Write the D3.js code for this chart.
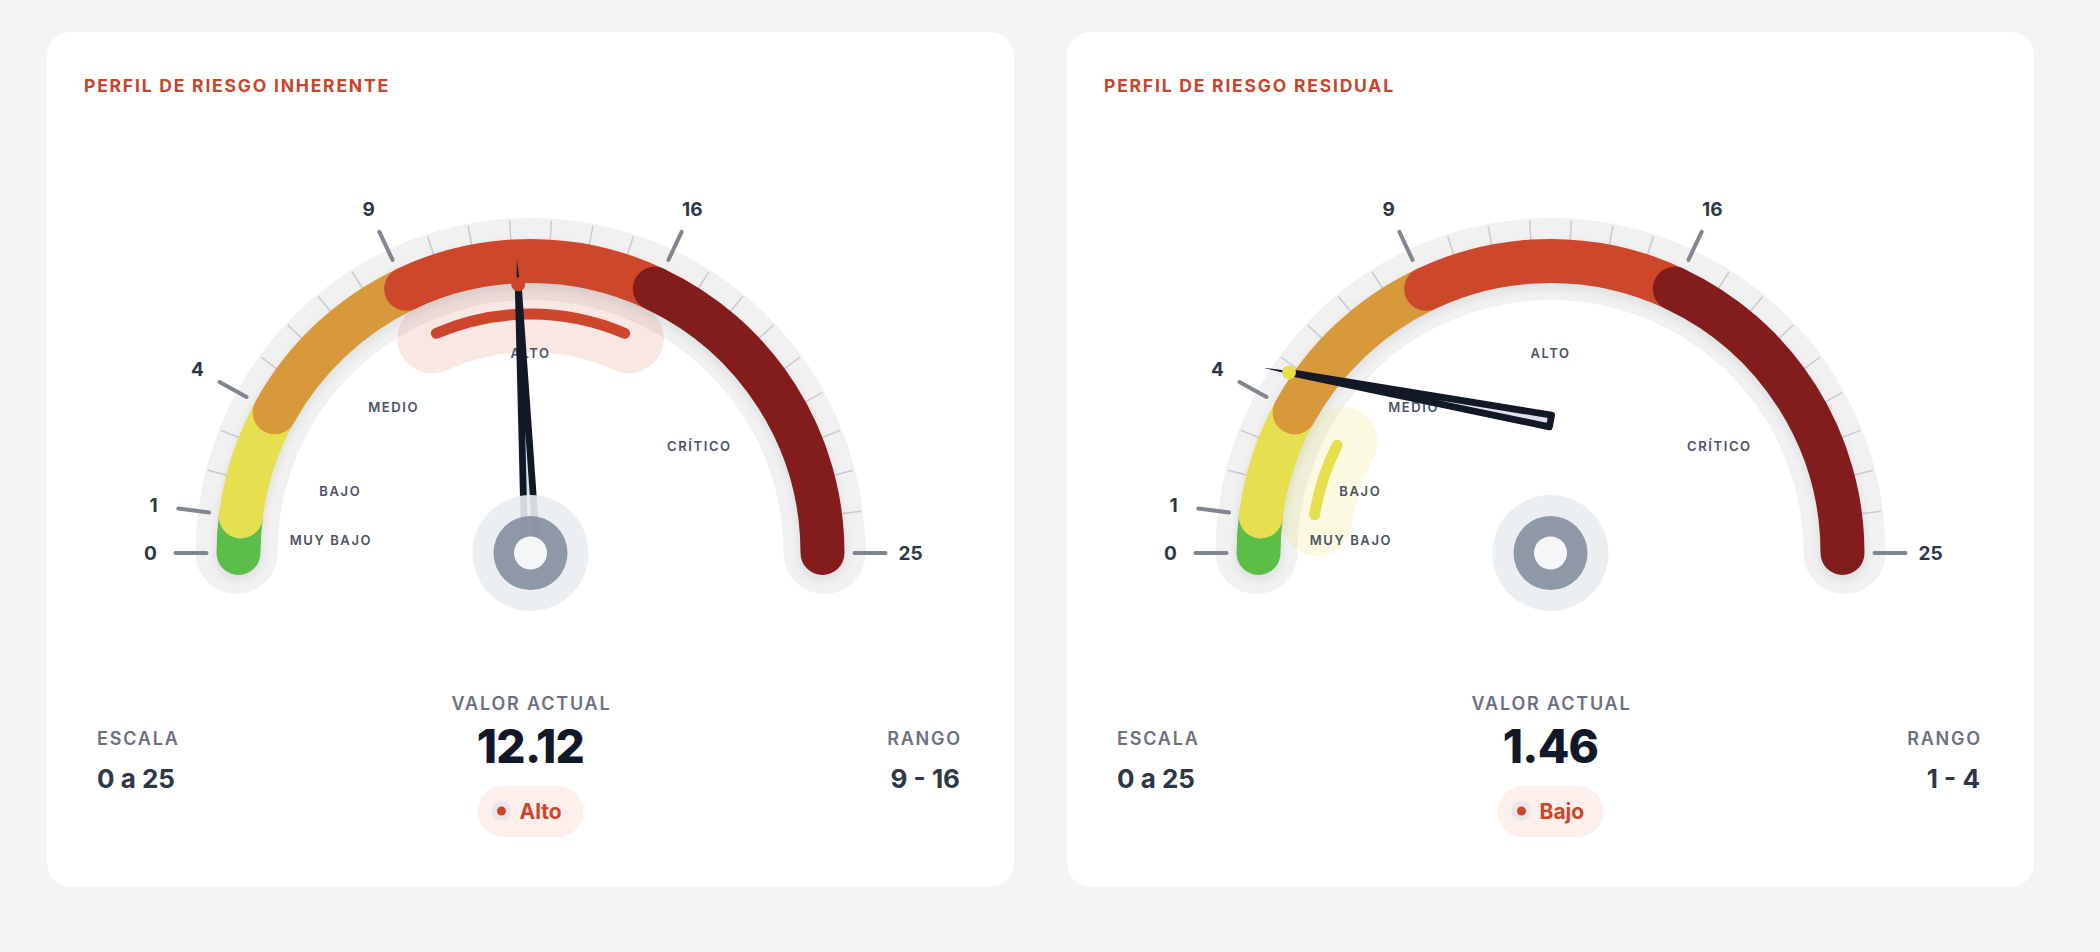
<!DOCTYPE html>
<html><head><meta charset="utf-8">
<script src="https://cdn.jsdelivr.net/npm/d3@7"></script>
<style>
html,body{margin:0;padding:0;background:#f4f4f5;}
svg{display:block;font-family:Inter,"Noto Sans",sans-serif;}
</style></head><body>
<svg id="chart" width="2100" height="952"></svg>
<script>
// ---------- data ----------
const gaugeTitles = ["PERFIL DE RIESGO INHERENTE", "PERFIL DE RIESGO RESIDUAL"];
const gaugeValues = [12.12, 1.46];
const scaleDomain = [0, 25];
const bandBreaks = [0, 1, 4, 9, 16, 25];
const bandNames = ["MUY BAJO", "BAJO", "MEDIO", "ALTO", "CRÍTICO"];
const bandLevels = ["Muy bajo", "Bajo", "Medio", "Alto", "Crítico"];
const majorTicks = [0, 1, 4, 9, 16, 25];
const minorTicks = [2, 3, 5, 6, 7, 8, 10, 11, 12, 13, 14, 15, 17, 18, 19, 20, 21, 22, 23, 24];
const statLabels = ["ESCALA", "VALOR ACTUAL", "RANGO"];
const scaleText = "0 a 25";

// ---------- styles / layout ----------
const bandColors = ["#5cbd4a", "#e6df50", "#d8993b", "#cd462c", "#831c1d"];
const haloColors = ["rgba(92,189,74,0.13)", "rgba(232,226,70,0.16)", "rgba(216,153,59,0.13)", "rgba(210,70,44,0.13)", "rgba(131,28,29,0.12)"];
const cardXs = [47, 1067];
const cardY = 32, cardW = 967, cardH = 855, cardR = 24;
const hubDy = 521;
const R = 292, bandW = 44, trackW = 82;
const needleLayout = [{pivotDy: -11, len: 258}, {pivotDy: -132, len: 266}];

const svg = d3.select("#chart");
const defs = svg.append("defs");
const f = defs.append("filter").attr("id", "bandShadow").attr("x", "-20%").attr("y", "-20%").attr("width", "140%").attr("height", "140%");
f.append("feDropShadow").attr("dx", 0).attr("dy", 4).attr("stdDeviation", 4).attr("flood-color", "#1f2937").attr("flood-opacity", 0.10);

const angle = d3.scaleLinear().domain(scaleDomain).range([-Math.PI / 2, Math.PI / 2]);
const arcPath = (r, a0, a1) => { const p = d3.path(); p.arc(0, 0, r, a0 - Math.PI / 2, a1 - Math.PI / 2); return p.toString(); };
const px = (r, a) => r * Math.sin(a);
const py = (r, a) => -r * Math.cos(a);

gaugeValues.forEach((value, gi) => {
  const cx0 = cardXs[gi];
  const card = svg.append("g").attr("transform", `translate(${cx0},${cardY})`);
  card.append("rect").attr("width", cardW).attr("height", cardH).attr("rx", cardR).attr("fill", "#ffffff");
  card.append("text").attr("x", 37).attr("y", 60).text(gaugeTitles[gi])
    .attr("font-size", 17.5).attr("font-weight", 700).attr("fill", "#c8442b").style("letter-spacing", "1.8px");

  const active = Math.max(0, d3.bisectRight(bandBreaks, value) - 1);
  const g = card.append("g").attr("transform", `translate(${cardW / 2},${hubDy})`);

  // track
  g.append("path").attr("d", arcPath(R + 2, angle(scaleDomain[0]), angle(scaleDomain[1])))
    .attr("fill", "none").attr("stroke", "#f1f1f2").attr("stroke-width", trackW).attr("stroke-linecap", "round");

  // active halo
  const inset = 0.035;
  const a0 = angle(bandBreaks[active]), a1 = angle(bandBreaks[active + 1]);
  g.append("path").attr("d", arcPath(236, a0 + 0.01, a1 - 0.01))
    .attr("fill", "none").attr("stroke", haloColors[active]).attr("stroke-width", 70).attr("stroke-linecap", "round");

  // minor ticks
  g.selectAll(".minor").data(minorTicks).join("line")
    .attr("x1", d => px(313, angle(d))).attr("y1", d => py(313, angle(d)))
    .attr("x2", d => px(333, angle(d))).attr("y2", d => py(333, angle(d)))
    .attr("stroke", "#c7cad0").attr("stroke-width", 1.5);
  // major ticks
  g.selectAll(".major").data(majorTicks).join("line")
    .attr("x1", d => px(324, angle(d))).attr("y1", d => py(324, angle(d)))
    .attr("x2", d => px(355, angle(d))).attr("y2", d => py(355, angle(d)))
    .attr("stroke", "#80868f").attr("stroke-width", 4).attr("stroke-linecap", "round");

  // bands
  const bg = g.append("g").attr("filter", "url(#bandShadow)");
  bandNames.forEach((n, i) => {
    bg.append("path").attr("d", arcPath(R, angle(bandBreaks[i]), angle(bandBreaks[i + 1])))
      .attr("fill", "none").attr("stroke", bandColors[i]).attr("stroke-width", bandW).attr("stroke-linecap", "round");
  });

  // active inner arc
  g.append("path").attr("d", arcPath(239, a0 + inset, a1 - inset))
    .attr("fill", "none").attr("stroke", bandColors[active]).attr("stroke-width", 11).attr("stroke-linecap", "round");

  // tick labels
  g.selectAll(".tl").data(majorTicks).join("text")
    .attr("x", d => px(380, angle(d))).attr("y", d => py(380, angle(d)))
    .attr("text-anchor", "middle").attr("dominant-baseline", "central")
    .attr("font-size", 19).attr("font-weight", 700).attr("fill", "#2d3748").text(d => d);

  // band labels
  g.selectAll(".bl").data(bandNames).join("text")
    .attr("x", (d, i) => px(200, angle((bandBreaks[i] + bandBreaks[i + 1]) / 2)))
    .attr("y", (d, i) => py(200, angle((bandBreaks[i] + bandBreaks[i + 1]) / 2)))
    .attr("text-anchor", "middle").attr("dominant-baseline", "central")
    .attr("font-size", 13).attr("font-weight", 600).attr("fill", "#4a5366").style("letter-spacing", "1.6px")
    .text(d => d);

  // needle
  const nl = needleLayout[gi];
  const deg = angle(value) * 180 / Math.PI;
  const ng = g.append("g").attr("transform", `translate(0,${nl.pivotDy}) rotate(${deg})`);
  ng.append("path").attr("d", d3.line()([[-1.6, -nl.len], [1.6, -nl.len], [0, -nl.len - 26]]) + "Z").attr("fill", "#121826");
  ng.append("path").attr("d", d3.line()([[-6, 0], [6, 0], [0, -nl.len]]) + "Z")
    .attr("fill", "#dfe3e9").attr("stroke", "#121826").attr("stroke-width", 6.8).attr("stroke-linejoin", "round");
  ng.append("circle").attr("cy", -nl.len).attr("r", 7).attr("fill", bandColors[active]);

  // hub
  g.append("circle").attr("r", 58).attr("fill", "#e9edf1").attr("opacity", 0.9);
  g.append("circle").attr("r", 37).attr("fill", "#858e9d").attr("opacity", 0.9);
  g.append("circle").attr("r", 16.5).attr("fill", "#f5f6f8");

  // stats
  const lblStyle = s => s.attr("font-size", 18).attr("font-weight", 600).attr("fill", "#6b7080").style("letter-spacing", "1.8px");
  card.append("text").attr("x", 50).attr("y", 713).text(statLabels[0]).call(lblStyle);
  card.append("text").attr("x", 50).attr("y", 756).text(scaleText)
    .attr("font-size", 26).attr("font-weight", 700).attr("fill", "#2d3748");
  card.append("text").attr("x", cardW / 2 + 1).attr("y", 678).attr("text-anchor", "middle").text(statLabels[1]).call(lblStyle);
  card.append("text").attr("x", cardW / 2).attr("y", 731).attr("text-anchor", "middle").text(value.toFixed(2))
    .attr("font-size", 46).attr("font-weight", 800).attr("fill", "#111827").style("letter-spacing", "-0.8px");
  card.append("text").attr("x", cardW - 52).attr("y", 713).attr("text-anchor", "end").text(statLabels[2]).call(lblStyle);
  card.append("text").attr("x", cardW - 54).attr("y", 756).attr("text-anchor", "end")
    .text(`${bandBreaks[active]} - ${bandBreaks[active + 1]}`)
    .attr("font-size", 26).attr("font-weight", 700).attr("fill", "#2d3748");

  // badge
  const bx = cardW / 2;
  card.append("rect").attr("x", bx - 53).attr("y", 754).attr("width", 106).attr("height", 51).attr("rx", 25.5).attr("fill", "#fcefec");
  card.append("circle").attr("cx", bx - 29).attr("cy", 779).attr("r", 10).attr("fill", "#e8e6e8");
  card.append("circle").attr("cx", bx - 29).attr("cy", 779).attr("r", 4.5).attr("fill", "#cd462c");
  card.append("text").attr("x", bx - 11).attr("y", 787).text(bandLevels[active])
    .attr("font-size", 21).attr("font-weight", 700).attr("fill", "#cd462c");
});
</script>
</body></html>
